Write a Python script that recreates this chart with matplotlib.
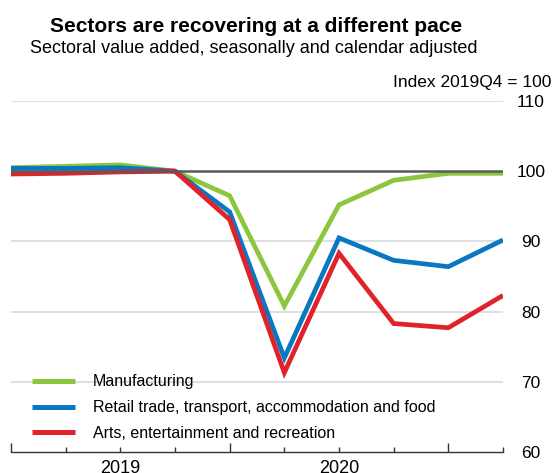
import matplotlib.pyplot as plt
import numpy as np

plt.rcParams['font.family'] = ['Liberation Sans', 'DejaVu Sans']

quarters = ['2019Q1', '2019Q2', '2019Q3', '2019Q4', '2020Q1', '2020Q2',
            '2020Q3', '2020Q4', '2021Q1', '2021Q2']
manufacturing = [100.5, 100.7, 100.9, 100.0, 96.5, 80.8, 95.2, 98.7, 99.7, 99.7]
retail = [100.4, 100.4, 100.5, 100.0, 94.2, 73.4, 90.5, 87.3, 86.4, 90.2]
arts = [99.6, 99.7, 99.9, 100.0, 93.1, 71.3, 88.3, 78.3, 77.7, 82.3]
series_labels = ['Manufacturing',
                 'Retail trade, transport, accommodation and food',
                 'Arts, entertainment and recreation']
colors = ['#8cc63f', '#0a77c2', '#e0232b']
years = ['2019', '2020']
yticks = [60, 70, 80, 90, 100, 110]

W, H = 555, 473
fig = plt.figure(figsize=(W / 100, H / 100), dpi=100)
ax = fig.add_axes([11 / W, (H - 452) / H, (503 - 11) / W, (452 - 101) / H])

x = np.arange(len(quarters))
ax.set_xlim(0, len(quarters) - 1)
ax.set_ylim(60, 110)

# gridlines and the 100 reference line
for v in yticks[1:]:
    if v == 100:
        continue
    ax.axhline(v, color='#dcdcdc', lw=1.3, zorder=1)
ax.axhline(100, color='#5a5a5a', lw=1.8, zorder=4)

for vals, c, lab in zip([manufacturing, retail, arts], colors, series_labels):
    ax.plot(x, vals, color=c, lw=3.4, label=lab, zorder=3,
            solid_joinstyle='miter', solid_capstyle='butt')

# axes styling
for s in ['top', 'left', 'right']:
    ax.spines[s].set_visible(False)
ax.spines['bottom'].set_color('#333333')
ax.spines['bottom'].set_linewidth(1.0)

ax.yaxis.tick_right()
ax.set_yticks(yticks)
ax.set_yticklabels([str(v) for v in yticks], ha='center')
ax.tick_params(axis='y', length=0, pad=20, labelsize=12.5)

ax.set_xticks([0, 4, 8])
ax.set_xticks([1, 2, 3, 5, 6, 7, 9], minor=True)
ax.set_xticklabels([])
ax.tick_params(axis='x', which='major', direction='in', length=6.5,
               width=1.0, color='#333333')
ax.tick_params(axis='x', which='minor', direction='in', length=3.6,
               width=1.0, color='#333333')
for i, yr in enumerate(years):
    ax.text(2 + 4 * i, -0.024, yr, transform=ax.get_xaxis_transform(),
            ha='center', va='top', fontsize=13)

leg = ax.legend(loc='lower left', bbox_to_anchor=(32 / W, (H - 441) / H),
                bbox_transform=fig.transFigure, frameon=False, fontsize=11.5,
                handlelength=2.7, handletextpad=1.1, labelspacing=0.68,
                borderpad=0, borderaxespad=0)
for line in leg.get_lines():
    line.set_linewidth(3.6)

fig.text(256 / W, (H - 32) / H, 'Sectors are recovering at a different pace',
         ha='center', va='baseline', fontsize=15, fontweight='bold')
fig.text(254 / W, (H - 53) / H,
         'Sectoral value added, seasonally and calendar adjusted',
         ha='center', va='baseline', fontsize=13)
fig.text(551 / W, (H - 87) / H, 'Index 2019Q4 = 100',
         ha='right', va='baseline', fontsize=12.5)

fig.savefig('out.png', dpi=100)
